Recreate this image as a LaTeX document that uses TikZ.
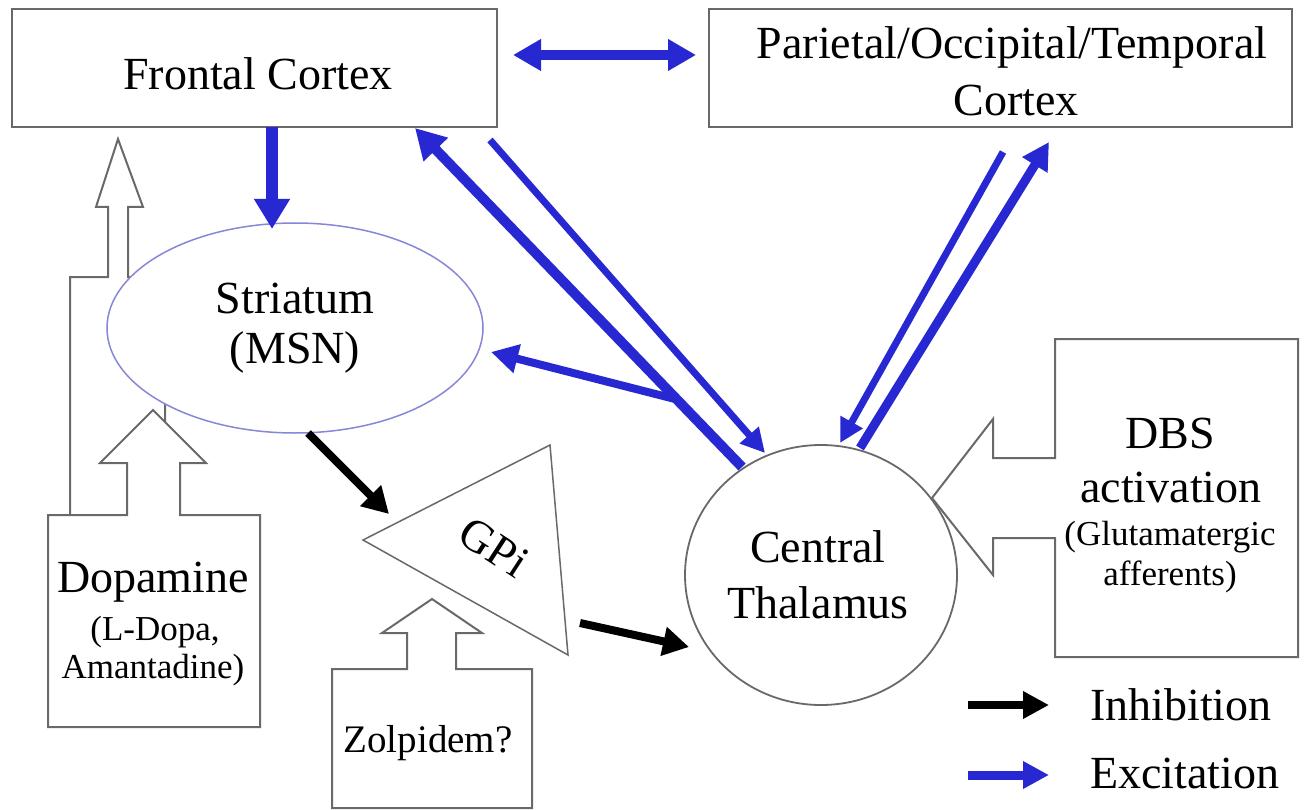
\documentclass[tikz,border=0pt]{standalone}
\usepackage{fontspec}
\setmainfont{Liberation Serif}
\usetikzlibrary{arrows.meta,shapes.geometric}
\definecolor{exc}{RGB}{40,40,210}
\definecolor{outl}{RGB}{105,105,105}
\definecolor{strc}{RGB}{135,135,215}
\begin{document}
\begin{tikzpicture}[x=1pt,y=-1pt,
  outline/.style={draw=outl,line width=2pt,line join=miter},
  big/.style={font=\fontsize{46}{55}\selectfont,inner sep=0pt},
  small/.style={font=\fontsize{35}{40}\selectfont,inner sep=0pt},
  excit/.style={draw=exc,line width=#1},
  inhib/.style={draw=black,line width=#1},
  headL/.style={-{Triangle[width=32pt,length=30pt]}},
  headM/.style={-{Triangle[width=28pt,length=27pt]}},
  headS/.style={-{Triangle[width=24pt,length=24pt]}},
]
\useasboundingbox[fill=white] (0,0) rectangle (1305,810);

% --- Dopamine callouts and striatum ---
\draw[outline,fill=white] (70,600) -- (70,277) -- (108,277) -- (108,207) -- (96,207)
  -- (118,139) -- (143,207) -- (128,207) -- (128,277) -- (165,277) -- (165,600) -- cycle;
\node[ellipse,draw=strc,line width=1.5pt,fill=white,minimum width=376pt,minimum height=210pt,inner sep=0pt] (striatum) at (295,328) {};
\draw[outline,fill=white] (48,515) -- (127,515) -- (127,463) -- (100,463) -- (153,410)
  -- (206,463) -- (180,463) -- (180,515) -- (260,515) -- (260,727) -- (48,727) -- cycle;

% --- Boxes ---
\node[draw=outl,line width=2pt,minimum width=485pt,minimum height=118pt,inner sep=0pt] (frontal) at (254.5,68) {};
\node[draw=outl,line width=2pt,minimum width=583pt,minimum height=118pt,inner sep=0pt] (parietal) at (1000.5,68) {};

% --- Zolpidem callout ---
\draw[outline,fill=white] (332,669) -- (407,669) -- (407,633) -- (382,633) -- (432,599)
  -- (482,633) -- (456,633) -- (456,669) -- (532,669) -- (532,808) -- (332,808) -- cycle;

% --- GPi triangle ---
\draw[draw=outl,line width=1.5pt,line join=miter] (363,540) -- (550,445) -- (568,655) -- cycle;
\coordinate (gpi) at (494,547);

% --- Thalamus ---
\node[ellipse,draw=outl,line width=1.8pt,fill=white,minimum width=272pt,minimum height=260pt,inner sep=0pt] (thalamus) at (821,575) {};

% --- DBS callout ---
\draw[outline] (1055,339) -- (1298,339) -- (1298,657) -- (1055,657) -- (1055,538)
  -- (993,538) -- (993,575) -- (932,498) -- (993,419) -- (993,458) -- (1055,458) -- cycle;

% --- Texts ---
\node[big] (tfrontal) at (258,74) {Frontal Cortex};
\node[big] (tpar1) at (1012,47) {Parietal/Occipital/Temporal};
\node[big] (tpar2) at (1016,100) {Cortex};
\node[big] (tstr1) at (295,298) {Striatum};
\node[big] (tstr2) at (295,352) {(MSN)};
\node[big] (tthal1) at (818,547) {Central};
\node[big] (tthal2) at (818,603) {Thalamus};
\node[big,rotate=-33] (tgpi) at (gpi) {GPi};
\node[big] (tdbs1) at (1170,433) {DBS};
\node[big] (tdbs2) at (1171,487) {activation};
\node[small] (tdbs3) at (1170,537) {(Glutamatergic};
\node[small] (tdbs4) at (1170,577) {afferents)};
\node[big] (tdop1) at (153,582) {Dopamine};
\node[small] (tdop2) at (155,632) {(L-Dopa,};
\node[small] (tdop3) at (153,670) {Amantadine)};
\node[font=\fontsize{39}{44}\selectfont,inner sep=0pt] (tzol) at (428,743) {Zolpidem?};
\node[big,anchor=west] (tinh) at (1090,705) {Inhibition};
\node[big,anchor=west] (texc) at (1090,773) {Excitation};

% --- Connector end points ---
\coordinate (fcS) at (272,127);  \coordinate (strT) at (272,229);
\coordinate (fcR) at (513,55);   \coordinate (parL) at (696,55);
\coordinate (thA) at (742,467);  \coordinate (fcA) at (415,128);
\coordinate (fcB) at (490,140);  \coordinate (thB) at (765,453);
\coordinate (br)  at (675,399);  \coordinate (strR) at (491,352);
\coordinate (parA) at (1003,152); \coordinate (thC) at (840,443);
\coordinate (thD) at (860,448);  \coordinate (parB) at (1049,142);
\coordinate (strB) at (308,433); \coordinate (gpiL) at (389,514);
\coordinate (gpiR) at (580,623); \coordinate (thL) at (689,647);
\coordinate (lg1a) at (968,705); \coordinate (lg1b) at (1049,705);
\coordinate (lg2a) at (968,775); \coordinate (lg2b) at (1049,775);

% --- Excitatory connectors ---
\draw[excit=12pt,-{Triangle[width=34pt,length=30pt]}] (fcS) -- (strT);
\draw[excit=10pt,{Triangle[width=30pt,length=28pt]}-{Triangle[width=30pt,length=28pt]}] (fcR) -- (parL);
\draw[excit=10pt,headL] (thA) -- (fcA);
\draw[excit=7pt,headS] (fcB) -- (thB);
\draw[excit=8pt,headM] (br) -- (strR);
\draw[excit=7pt,headS] (parA) -- (thC);
\draw[excit=9pt,headM] (thD) -- (parB);

% --- Inhibitory connectors ---
\draw[inhib=8pt,-{Triangle[width=28pt,length=26pt]}] (strB) -- (gpiL);
\draw[inhib=8pt,-{Triangle[width=28pt,length=26pt]}] (gpiR) -- (thL);

% --- Legend ---
\draw[inhib=8pt,-{Triangle[width=26pt,length=26pt]}] (lg1a) -- (lg1b);
\draw[excit=9pt,-{Triangle[width=26pt,length=26pt]}] (lg2a) -- (lg2b);
\end{tikzpicture}
\end{document}
